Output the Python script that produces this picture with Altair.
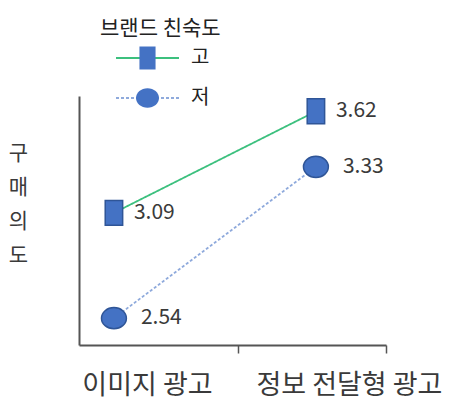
import json
import altair as alt
import pandas as pd

# ---- data ----
categories = ["이미지 광고", "정보 전달형 광고"]
series = ["고", "저"]
values_high = [3.09, 3.62]
values_low = [2.54, 3.33]
boundary_ticks = [0.614, 1.347]

rows = []
for s, vals in zip(series, [values_high, values_low]):
    for c, v in zip(categories, vals):
        rows.append({"광고": c, "친숙도": s, "구매의도": v})
df = pd.DataFrame(rows)

cat_js = json.dumps(categories, ensure_ascii=False)
FONT = "Noto Sans CJK KR"
AXIS_COLOR = "#555555"
TEXT_COLOR = "#3a3a3a"

rect_path = "M-0.7,-1H0.7V1H-0.7Z"
ellipse_path = "M-1,0A1,0.85,0,1,0,1,0A1,0.85,0,1,0,-1,0Z"

base = alt.Chart(df).transform_calculate(
    idx=f"indexof({cat_js}, datum['광고'])",
    marker="datum['친숙도']",
)

tick_test = " || ".join(f"datum.value == {t}" for t in boundary_ticks)

x = alt.X(
    "idx:Q",
    scale=alt.Scale(domain=[-0.173, 1.347], nice=False, zero=False),
    axis=alt.Axis(
        values=[0, 1] + boundary_ticks,
        labelExpr=f"datum.value == 0 || datum.value == 1 ? {cat_js}[datum.value] : ''",
        ticks=True,
        tickSize=8,
        tickColor=AXIS_COLOR,
        tickWidth=1.5,
        tickOpacity={"condition": {"test": tick_test, "value": 1}, "value": 0},
        grid=False,
        title=None,
        domainColor=AXIS_COLOR,
        domainWidth=2,
        labelFontSize=27,
        labelPadding=19,
        labelOffset=33,
        labelLimit=400,
        labelOverlap=False,
        labelFont=FONT,
        labelColor=TEXT_COLOR,
    ),
)

y = alt.Y(
    "구매의도:Q",
    scale=alt.Scale(domain=[2.4, 3.7], nice=False, zero=False),
    axis=alt.Axis(
        labels=False,
        ticks=False,
        grid=False,
        title=["구", "매", "의", "도"],
        titleAngle=0,
        titleX=-61,
        titleY=46,
        titleBaseline="top",
        titleAlign="center",
        titleLineHeight=34,
        titleFontSize=21,
        titleFontWeight="normal",
        titleFont=FONT,
        titleColor=TEXT_COLOR,
        domainColor=AXIS_COLOR,
        domainWidth=2,
    ),
)

line_legend = alt.Legend(
    orient="none",
    legendX=21,
    legendY=-78,
    title="브랜드 친숙도",
    titleFontSize=21,
    titleFont=FONT,
    titleFontWeight="normal",
    titleColor="#222222",
    titlePadding=-1,
    symbolType="stroke",
    symbolSize=3969,
    symbolStrokeWidth=2,
    symbolOffset=15,
    labelOffset=11,
    labelFontSize=20,
    labelFont=FONT,
    labelColor="#222222",
    clipHeight=40,
    rowPadding=0,
    padding=0,
)

lines = base.mark_line(strokeWidth=1.8).encode(
    x=x,
    y=y,
    color=alt.Color(
        "친숙도:N",
        scale=alt.Scale(domain=series, range=["#3CC07E", "#8FAADC"]),
        legend=line_legend,
    ),
    strokeDash=alt.StrokeDash(
        "친숙도:N",
        scale=alt.Scale(domain=series, range=[[1, 0], [3, 2]]),
        legend=line_legend,
    ),
)

points = base.mark_point(
    filled=True, fill="#4472C4", stroke="#2F5597", strokeWidth=1.5, opacity=1, size=620
).encode(
    x=x,
    y=y,
    shape=alt.Shape(
        "marker:N",
        scale=alt.Scale(range=[rect_path, ellipse_path]),
        legend=alt.Legend(
            orient="none",
            legendX=21,
            legendY=-58,
            title=None,
            symbolSize=529,
            symbolOffset=35,
            symbolFillColor="#4472C4",
            symbolStrokeColor="#2F5597",
            symbolStrokeWidth=1.5,
            labelOpacity=0,
            clipHeight=40,
            rowPadding=0,
            padding=0,
        ),
    ),
)

text_hi = base.transform_filter(alt.datum["친숙도"] == series[0]).mark_text(
    align="left", baseline="middle", dx=20, fontSize=21, font=FONT, color=TEXT_COLOR
).encode(x=x, y=y, text=alt.Text("구매의도:Q", format=".2f"))

text_lo = base.transform_filter(alt.datum["친숙도"] == series[1]).mark_text(
    align="left", baseline="middle", dx=27, fontSize=21, font=FONT, color=TEXT_COLOR
).encode(x=x, y=y, text=alt.Text("구매의도:Q", format=".2f"))

chart = (
    alt.layer(lines, points, text_hi, text_lo)
    .properties(
        width=307,
        height=249,
        autosize=alt.AutoSizeParams(type="none"),
        padding={"left": 79, "top": 96, "right": 68, "bottom": 65},
        background="white",
    )
    .configure_view(stroke=None)
)

chart.save("out.html", embed_options={"renderer": "svg", "actions": False})
